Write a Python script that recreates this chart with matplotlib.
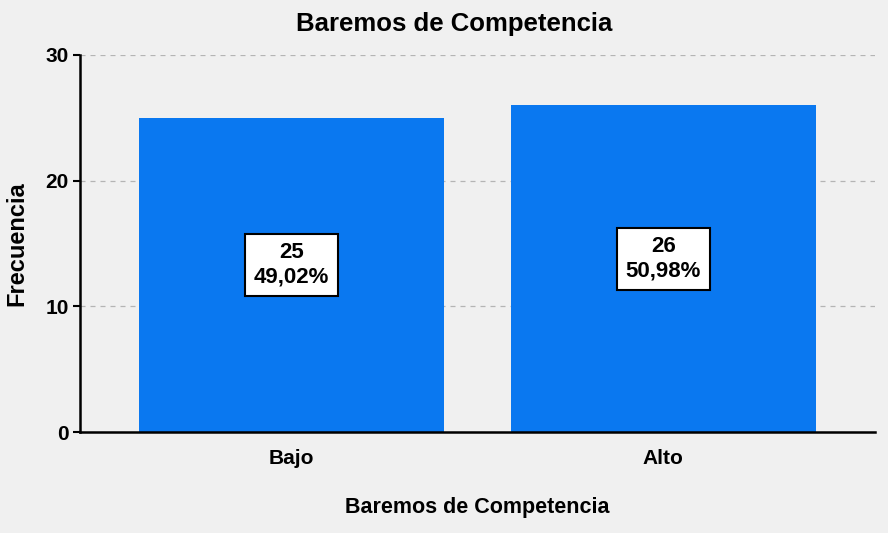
import matplotlib
matplotlib.use("Agg")
import matplotlib.pyplot as plt

# Datos del gráfico
categorias = ["Bajo", "Alto"]
frecuencias = [25, 26]
porcentajes = ["49,02%", "50,98%"]
y_ticks = [0, 10, 20, 30]

plt.rcParams['font.family'] = ['Liberation Sans', 'DejaVu Sans']

bg = "#F0F0F0"
bar_color = "#0A78F0"

fig = plt.figure(figsize=(8.88, 5.33), dpi=100, facecolor=bg)
ax = fig.add_axes([80 / 888, 1 - 432 / 533, 795 / 888, 377 / 533])
ax.set_facecolor(bg)

x = list(range(len(categorias)))
ax.bar(x, frecuencias, width=0.82, color=bar_color, zorder=2)

# Etiquetas con recuadro blanco
for xi, f, p in zip(x, frecuencias, porcentajes):
    ax.text(xi, f / 2 + 0.8, f"{f}\n{p}", ha="center", va="center",
            fontsize=16, fontweight="bold", linespacing=1.2, zorder=3,
            bbox=dict(boxstyle="square,pad=0.38", facecolor="white",
                      edgecolor="black", linewidth=1.5))

ax.set_xlim(-0.569, 1.569)
ax.set_ylim(0, 30)
ax.set_yticks(y_ticks)
ax.set_xticks(x)
ax.set_xticklabels(categorias)
ax.tick_params(axis="x", length=0, pad=12, labelsize=15)
ax.tick_params(axis="y", length=5, width=1.5, pad=3, labelsize=15)
for lbl in ax.get_xticklabels() + ax.get_yticklabels():
    lbl.set_fontweight("bold")

ax.grid(axis="y", linestyle=(0, (4, 4)), color="#B4B4B4", linewidth=0.9, zorder=1)

ax.spines['top'].set_visible(False)
ax.spines['right'].set_visible(False)
ax.spines['left'].set_linewidth(1.8)
ax.spines['bottom'].set_linewidth(1.8)

# Título centrado en la figura (algo a la izquierda del centro del eje)
fig.text(454 / 888, 1 - 24 / 533, "Baremos de Competencia", ha="center", va="center",
         fontsize=18.5, fontweight="bold")
ax.set_xlabel("Baremos de Competencia", fontsize=15.5, fontweight="bold", labelpad=21)
ax.set_ylabel("Frecuencia", fontsize=17, fontweight="bold", labelpad=12)

fig.savefig("out.png", dpi=100, facecolor=bg)
